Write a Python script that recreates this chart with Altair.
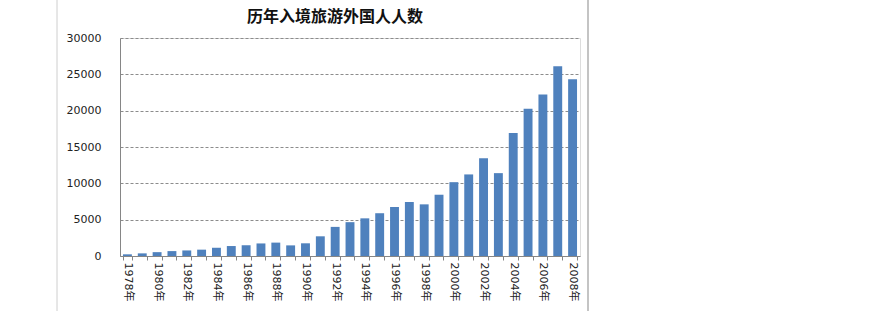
import altair as alt
import pandas as pd

years = [str(y) + "年" for y in range(1978, 2009)]
values = [230, 362, 529, 675, 765, 873, 1134, 1371, 1482, 1728, 1842, 1461, 1747,
          2710, 4006, 4656, 5182, 5887, 6744, 7428, 7108, 8432, 10160, 11226,
          13440, 11403, 16933, 20255, 22210, 26110, 24325]
y_ticks = [0, 5000, 10000, 15000, 20000, 25000, 30000]
title_text = ["历年入境旅游外国人人数"]

df = pd.DataFrame({"year": years, "value": values})
tdf = pd.DataFrame({"t": title_text})
FONT = "DejaVu Sans, Noto Sans CJK SC"

bars = alt.Chart(df).mark_bar(color="#4F81BD").encode(
    x=alt.X("year:O", sort=years, title=None,
            scale=alt.Scale(paddingInner=0.4, paddingOuter=0.2),
            axis=alt.Axis(labelAngle=90, labelFont=FONT, labelFontSize=11,
                          labelColor="#222222", domainColor="#868686",
                          tickColor="#868686", tickSize=4, tickBand="extent",
                          labelPadding=2, labelOverlap=False,
                          labelExpr="toNumber(substring(datum.label,0,4)) % 2 == 0 ? datum.label : ''")),
    y=alt.Y("value:Q", title=None,
            scale=alt.Scale(domain=[0, 30000], nice=False),
            axis=alt.Axis(values=y_ticks, format="d", labelFont=FONT, labelFontSize=11,
                          labelColor="#222222", domainColor="#868686",
                          ticks=False, labelPadding=19, grid=True,
                          gridColor="#8c8c8c", gridDash=[3, 2], gridWidth=1)),
)

title = alt.Chart(tdf).mark_text(fontSize=16, fontWeight="bold",
                                 font="Noto Sans CJK SC", color="#111111",
                                 align="center", baseline="middle").encode(
    text="t:N", x=alt.value(215), y=alt.value(-21))

left_border = alt.Chart(df).mark_rule(color="#e6e6e6", strokeWidth=1).encode(
    x=alt.value(-63), y=alt.value(-38), y2=alt.value(273))
right_border = alt.Chart(df).mark_rule(color="#c4c4c4", strokeWidth=2).encode(
    x=alt.value(468), y=alt.value(-38), y2=alt.value(273))

chart = alt.layer(left_border, right_border, bars, title).properties(
    width=460, height=218,
    autosize=alt.AutoSizeParams(type="none"),
    padding={"left": 120, "top": 38, "right": 313, "bottom": 55},
).configure_view(stroke=None).configure(background="white")

chart.save("out.html", embed_options={"renderer": "svg", "actions": False})
